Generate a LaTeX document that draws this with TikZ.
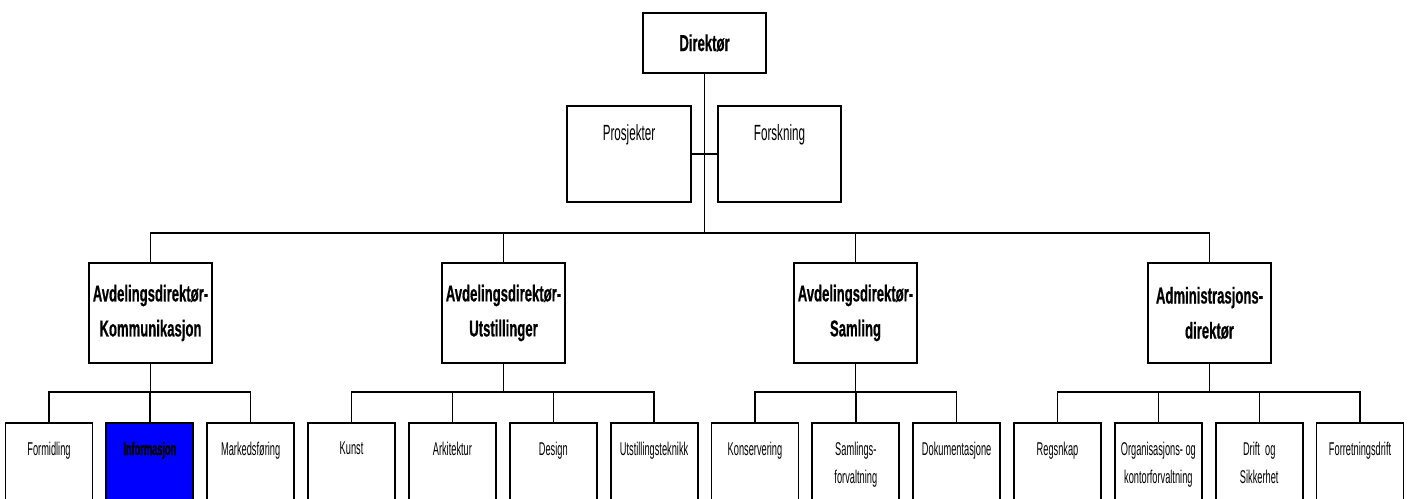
\documentclass[tikz,border=0pt]{standalone}
\usepackage{fontspec}
\setmainfont{Liberation Sans}
\newfontfamily\nfhead[FakeStretch=0.57,FakeBold=0.5]{Liberation Sans}
\newfontfamily\nfmid[FakeStretch=0.53]{Liberation Sans}
\newfontfamily\nfleaf[FakeStretch=0.5]{Liberation Sans}
\newfontfamily\nfheavy[FakeStretch=0.5,FakeBold=1.5]{Liberation Sans}
\definecolor{infoblue}{RGB}{0,0,255}
\begin{document}
\begin{tikzpicture}[x=1pt,y=-1pt,
  bx/.style={draw, line width=1.8pt, inner sep=0pt, align=center, fill=white},
  con/.style={line width=1.4pt},
  toplab/.style={anchor=north, inner sep=0pt, align=center},
  headfont/.style={font={\nfhead\bfseries\fontsize{23}{35}\selectfont}},
  midlab/.style={toplab, yshift=-19pt, font={\nfmid\fontsize{22}{25}\selectfont}},
  leaflab/.style={toplab, yshift=-19.5pt, font={\nfleaf\fontsize{18.5}{28}\selectfont}},
  leafboldlab/.style={toplab, yshift=-19.5pt, font={\nfheavy\bfseries\fontsize{18.5}{28}\selectfont}},
  l2/.style={bx, minimum width=123pt, minimum height=100pt, headfont},
  leaf/.style={bx, anchor=north, minimum width=87pt, minimum height=110pt},
]
\useasboundingbox (0,0) rectangle (1410,498);
\clip (0,0) rectangle (1410,498);

% top
\node[bx, minimum width=123pt, minimum height=60pt, headfont] (dir) at (704.5,43) {Direktør};
\node[bx, minimum width=124pt, minimum height=96pt, label={[midlab]north:Prosjekter}] (pro) at (629,154) {};
\node[bx, minimum width=123pt, minimum height=96pt, label={[midlab]north:Forskning}] (fors) at (779.5,154) {};

% level 2
\node[l2] (k) at (150.5,313) {Avdelingsdirektør-\\Kommunikasjon};
\node[l2] (u) at (503.5,313) {Avdelingsdirektør-\\Utstillinger};
\node[l2] (s) at (855.5,313) {Avdelingsdirektør-\\Samling};
\node[l2] (a) at (1209.5,313) {Administrasjons-\\direktør};

% level 3
\node[leaf, label={[leaflab]north:Formidling}] (c1) at (49,422) {};
\node[leaf, fill=infoblue, label={[leafboldlab]north:Informasjon}] (c2) at (149.85,422) {};
\node[leaf, label={[leaflab]north:Markedsføring}] (c3) at (250.7,422) {};
\node[leaf, label={[leaflab]north:Kunst}] (c4) at (351.55,422) {};
\node[leaf, label={[leaflab]north:Arkitektur}] (c5) at (452.4,422) {};
\node[leaf, label={[leaflab]north:Design}] (c6) at (553.25,422) {};
\node[leaf, label={[leaflab]north:Utstillingsteknikk}] (c7) at (654.1,422) {};
\node[leaf, label={[leaflab]north:Konservering}] (c8) at (754.95,422) {};
\node[leaf, label={[leaflab]north:Samlings-\\forvaltning}] (c9) at (855.8,422) {};
\node[leaf, label={[leaflab]north:Dokumentasjone}] (c10) at (956.65,422) {};
\node[leaf, label={[leaflab]north:Regsnkap}] (c11) at (1057.5,422) {};
\node[leaf, label={[leaflab]north:Organisasjons- og\\kontorforvaltning}] (c12) at (1158.35,422) {};
\node[leaf, label={[leaflab]north:Drift~ og\\Sikkerhet}] (c13) at (1259.2,422) {};
\node[leaf, label={[leaflab]north:Forretningsdrift}] (c14) at (1360.05,422) {};

% connectors
\coordinate (bus) at (704.5,233);
\coordinate (b3) at (0,392);
\draw[con] (dir.south) -- (bus);
\draw[con] (pro.east) -- (fors.west);
\draw[con] (k.north) |- (bus) -| (a.north);
\draw[con] (u.north) -- (u.north |- bus);
\draw[con] (s.north) -- (s.north |- bus);

\draw[con] (k.south) -- (k.south |- b3);
\draw[con] (c1.north) |- (c3.north |- b3) -- (c3.north);
\draw[con] (c2.north) -- (c2.north |- b3);

\draw[con] (u.south) -- (u.south |- b3);
\draw[con] (c4.north) |- (c7.north |- b3) -- (c7.north);
\draw[con] (c5.north) -- (c5.north |- b3);
\draw[con] (c6.north) -- (c6.north |- b3);

\draw[con] (s.south) -- (s.south |- b3);
\draw[con] (c8.north) |- (c10.north |- b3) -- (c10.north);
\draw[con] (c9.north) -- (c9.north |- b3);

\draw[con] (a.south) -- (a.south |- b3);
\draw[con] (c11.north) |- (c14.north |- b3) -- (c14.north);
\draw[con] (c12.north) -- (c12.north |- b3);
\draw[con] (c13.north) -- (c13.north |- b3);
\end{tikzpicture}
\end{document}
